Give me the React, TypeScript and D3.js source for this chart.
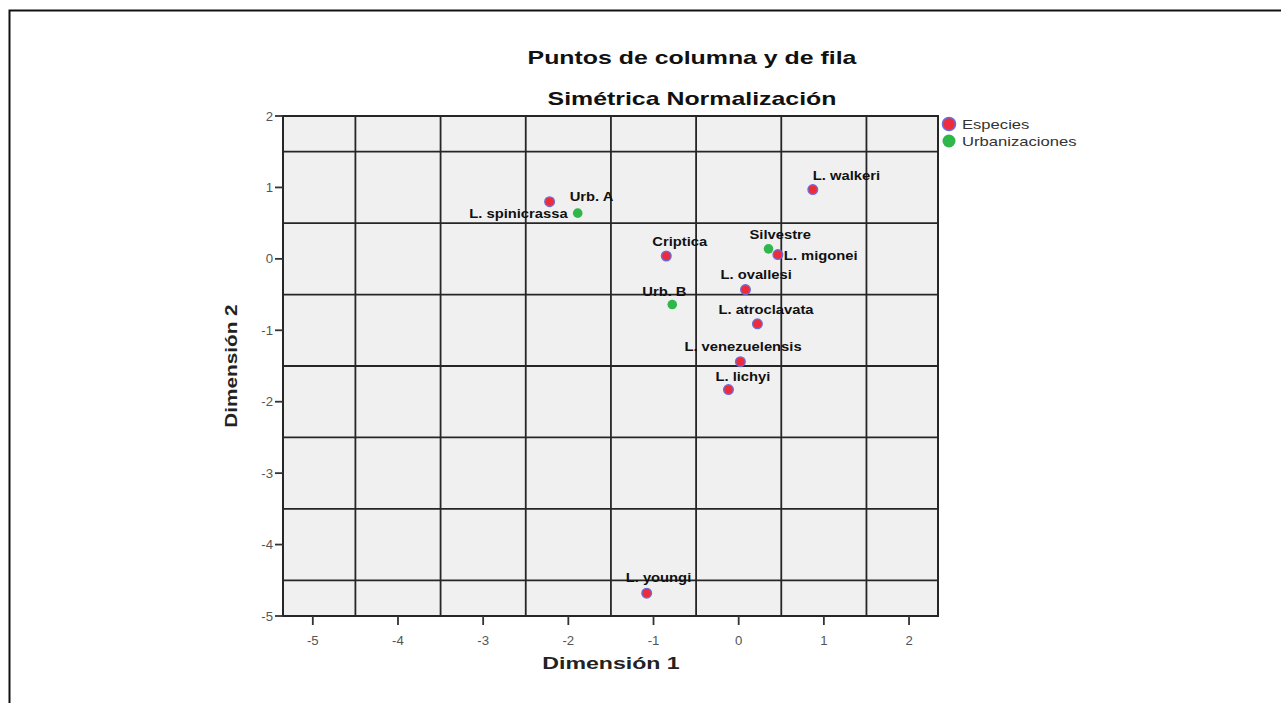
import React from "react";
import { scaleLinear, range } from "d3";

// Correspondence analysis scores
const pointNames = [
  "L. walkeri",
  "L. spinicrassa",
  "Urb. A",
  "Criptica",
  "Silvestre",
  "L. migonei",
  "L. ovallesi",
  "Urb. B",
  "L. atroclavata",
  "L. venezuelensis",
  "L. lichyi",
  "L. youngi",
];
const dim1 = [0.87, -2.22, -1.89, -0.85, 0.35, 0.46, 0.08, -0.78, 0.22, 0.02, -0.12, -1.08];
const dim2 = [0.97, 0.8, 0.64, 0.04, 0.14, 0.06, -0.43, -0.64, -0.91, -1.44, -1.83, -4.68];
const groups = [
  "Especies",
  "Especies",
  "Urbanizaciones",
  "Especies",
  "Urbanizaciones",
  "Especies",
  "Especies",
  "Urbanizaciones",
  "Especies",
  "Especies",
  "Especies",
  "Especies",
];

const legendItems = ["Especies", "Urbanizaciones"];
const xTicks = [-5, -4, -3, -2, -1, 0, 1, 2];
const yTicks = [2, 1, 0, -1, -2, -3, -4, -5];
const gridX = [-4.5, -3.5, -2.5, -1.5, -0.5, 0.5, 1.5];
const gridY = [1.5, 0.5, -0.5, -1.5, -2.5, -3.5, -4.5];

const title1 = "Puntos de columna y de fila";
const title2 = "Simétrica Normalización";
const xTitle = "Dimensión 1";
const yTitle = "Dimensión 2";

// label placement relative to its dot: [dx, dy, anchor]
const labelPos: Record<string, [number, number, string]> = {
  "L. walkeri": [0, -10, "start"],
  "Urb. A": [-8, -12, "start"],
  "L. spinicrassa": [18, 16, "end"],
  Criptica: [-14, -10, "start"],
  Silvestre: [-19, -10, "start"],
  "L. migonei": [6, 5, "start"],
  "L. ovallesi": [-25, -11, "start"],
  "Urb. B": [-30, -9, "start"],
  "L. atroclavata": [-39, -10, "start"],
  "L. venezuelensis": [-56, -11, "start"],
  "L. lichyi": [-13, -9, "start"],
  "L. youngi": [-21, -11, "start"],
};

const W = 1281;
const H = 703;
const plot = { left: 283, right: 938, top: 116, bottom: 616 };
const FONT = "Arial, 'Liberation Sans', sans-serif";

const colors: Record<string, { fill: string; stroke: string }> = {
  Especies: { fill: "#ee2b3b", stroke: "#6c6cd8" },
  Urbanizaciones: { fill: "#2fb74c", stroke: "none" },
};

// text stretched horizontally like the source picture
const SText: React.FC<{
  x: number;
  y: number;
  sx?: number;
  rotate?: number;
  anchor?: string;
  size: number;
  weight?: string;
  fill?: string;
  children: React.ReactNode;
}> = ({ x, y, sx = 1.35, rotate = 0, anchor = "start", size, weight = "normal", fill = "#000", children }) => (
  <text
    transform={`translate(${x},${y}) rotate(${rotate}) scale(${sx},1)`}
    textAnchor={anchor as any}
    fontFamily={FONT}
    fontSize={size}
    fontWeight={weight}
    fill={fill}
  >
    {children}
  </text>
);

export default function App() {
  const x = scaleLinear().domain([-5.35, 2.34]).range([plot.left, plot.right]);
  const y = scaleLinear().domain([-5, 2]).range([plot.bottom, plot.top]);

  const points = range(pointNames.length).map((i) => ({
    name: pointNames[i],
    d1: dim1[i],
    d2: dim2[i],
    group: groups[i],
  }));

  return (
    <svg
      width={W}
      height={H}
      style={{ position: "absolute", left: 0, top: 0, background: "#fff" }}
    >
      {/* outer frame */}
      <path d={`M9.5,${H} V10.5 H${W}`} fill="none" stroke="#111" strokeWidth={2} />

      <SText x={692} y={64} size={19} weight="bold" sx={1.31} anchor="middle" fill="#111">
        {title1}
      </SText>
      <SText x={692} y={105} size={19} weight="bold" sx={1.31} anchor="middle" fill="#111">
        {title2}
      </SText>

      {/* plot area */}
      <rect
        x={plot.left}
        y={plot.top}
        width={plot.right - plot.left}
        height={plot.bottom - plot.top}
        fill="#f0f0f0"
      />
      {gridX.map((v) => (
        <line key={"gx" + v} x1={x(v)} x2={x(v)} y1={plot.top} y2={plot.bottom} stroke="#262626" strokeWidth={1.8} />
      ))}
      {gridY.map((v) => (
        <line key={"gy" + v} x1={plot.left} x2={plot.right} y1={y(v)} y2={y(v)} stroke="#262626" strokeWidth={1.8} />
      ))}
      <rect
        x={plot.left}
        y={plot.top}
        width={plot.right - plot.left}
        height={plot.bottom - plot.top}
        fill="none"
        stroke="#262626"
        strokeWidth={2}
      />

      {/* axes */}
      {yTicks.map((t) => (
        <g key={"yt" + t}>
          <line x1={plot.left - 8} x2={plot.left} y1={y(t)} y2={y(t)} stroke="#333" strokeWidth={1.8} />
          <SText x={plot.left - 10} y={y(t) + 4.5} size={12} sx={1.1} anchor="end" fill="#555">
            {t}
          </SText>
        </g>
      ))}
      {xTicks.map((t) => (
        <g key={"xt" + t}>
          <line x1={x(t)} x2={x(t)} y1={plot.bottom} y2={plot.bottom + 9} stroke="#333" strokeWidth={1.8} />
          <SText x={x(t)} y={plot.bottom + 29} size={12} sx={1.1} anchor="middle" fill="#555">
            {t}
          </SText>
        </g>
      ))}
      <SText x={611} y={669} size={17} weight="bold" sx={1.36} anchor="middle" fill="#222">
        {xTitle}
      </SText>
      <SText x={237} y={366} size={17} weight="bold" sx={1.22} rotate={-90} anchor="middle" fill="#222">
        {yTitle}
      </SText>

      {/* points */}
      {points.map((p) => (
        <circle
          key={"c" + p.name}
          cx={x(p.d1)}
          cy={y(p.d2)}
          r={4.8}
          fill={colors[p.group].fill}
          stroke={colors[p.group].stroke}
          strokeWidth={1.4}
        />
      ))}
      {points.map((p) => {
        const [dx, dy, anchor] = labelPos[p.name];
        return (
          <SText
            key={"l" + p.name}
            x={x(p.d1) + dx}
            y={y(p.d2) + dy}
            size={12}
            weight="bold"
            sx={1.23}
            anchor={anchor}
            fill="#111"
          >
            {p.name}
          </SText>
        );
      })}

      {/* legend */}
      {legendItems.map((g, i) => (
        <g key={"lg" + g}>
          <circle
            cx={949}
            cy={124 + i * 17}
            r={6.5}
            fill={colors[g].fill}
            stroke={colors[g].stroke}
            strokeWidth={1.6}
          />
          <SText x={962} y={128.5 + i * 17} size={12.5} sx={1.33} fill="#333">
            {g}
          </SText>
        </g>
      ))}
    </svg>
  );
}
